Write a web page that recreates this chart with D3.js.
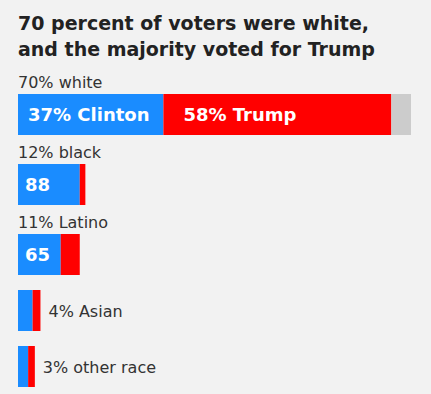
<!DOCTYPE html>
<html>
<head>
<meta charset="utf-8">
<script src="https://cdn.jsdelivr.net/npm/d3@7"></script>
<style>
  html, body { margin: 0; padding: 0; background: #f2f2f2; }
  svg { display: block; font-family: "DejaVu Sans", sans-serif; }
</style>
</head>
<body>
<svg id="chart" width="431" height="394"></svg>
<script>
// data
const groups = ["white", "black", "Latino", "Asian", "other race"];
const shareOfVoters = [70, 12, 11, 4, 3];
const clinton = [37, 88, 65, 65, 56];
const trump = [58, 8, 29, 35, 37];
const otherVote = [5, 0, 0, 0, 0];
const titleLines = ["70 percent of voters were white,", "and the majority voted for Trump"];

const svg = d3.select("#chart");
const left = 18;
const barH = 41;

// width of a row = its share of all voters
const x = d3.scaleLinear().domain([0, 100]).range([left, left + 561.4]);

const colors = { clinton: "#1a8cff", trump: "#ff0000", other: "#cccccc" };

// title
svg.append("g").selectAll("text")
  .data(titleLines)
  .join("text")
  .attr("x", left)
  .attr("y", (d, i) => 30 + i * 26)
  .attr("fill", "#222")
  .style("font-size", "19px")
  .style("font-weight", "bold")
  .text(d => d);

// rows: labels above the bar for the big groups, to the right for the tiny ones
let y = 94;
const rows = groups.map((g, i) => {
  const above = i < 3;
  const r = { g, i, above, y };
  y += barH + (i < 2 ? 29 : 15);
  return r;
});

rows.forEach(r => {
  const total = clinton[r.i] + trump[r.i] + otherVote[r.i];
  const w = x(shareOfVoters[r.i]) - x(0);
  const parts = [
    { k: "clinton", v: clinton[r.i] },
    { k: "trump", v: trump[r.i] },
    { k: "other", v: otherVote[r.i] }
  ];
  const inner = d3.scaleLinear().domain([0, total]).range([x(0), x(0) + w]);
  let acc = 0;
  parts.forEach(p => { p.x0 = acc; acc += p.v; p.x1 = acc; });

  const row = svg.append("g");
  row.selectAll("rect")
    .data(parts.filter(p => p.v > 0))
    .join("rect")
    .attr("x", p => inner(p.x0))
    .attr("y", r.y)
    .attr("width", p => inner(p.x1) - inner(p.x0))
    .attr("height", barH)
    .attr("fill", p => colors[p.k]);

  const label = shareOfVoters[r.i] + "% " + r.g;
  if (r.above) {
    row.append("text")
      .attr("x", left)
      .attr("y", r.y - 6)
      .attr("fill", "#333")
      .style("font-size", "16px")
      .text(label);
  } else {
    row.append("text")
      .attr("x", x(0) + w + 8)
      .attr("y", r.y + barH / 2 + 6)
      .attr("fill", "#333")
      .style("font-size", "16px")
      .text(label);
  }

  // numbers inside the bars
  if (r.i === 0) {
    row.append("text")
      .attr("x", inner(0) + 10)
      .attr("y", r.y + 27)
      .attr("fill", "#fff")
      .style("font-size", "18px")
      .style("font-weight", "bold")
      .text(clinton[r.i] + "% Clinton");
    row.append("text")
      .attr("x", inner(clinton[r.i]) + 20)
      .attr("y", r.y + 27)
      .attr("fill", "#fff")
      .style("font-size", "18px")
      .style("font-weight", "bold")
      .text(trump[r.i] + "% Trump");
  } else if (r.above) {
    row.append("text")
      .attr("x", inner(0) + 7)
      .attr("y", r.y + 27)
      .attr("fill", "#fff")
      .style("font-size", "18px")
      .style("font-weight", "bold")
      .text(clinton[r.i]);
  }
});
</script>
</body>
</html>
